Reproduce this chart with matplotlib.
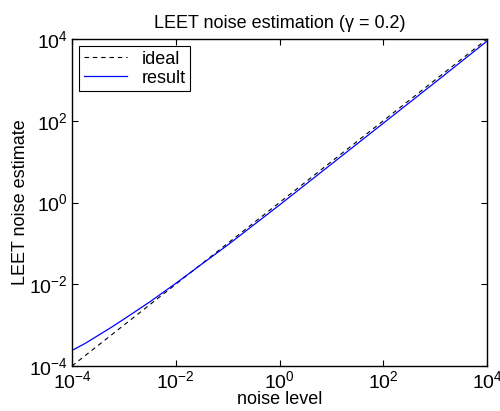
import matplotlib

matplotlib.use("Agg")
import matplotlib.pyplot as plt
import numpy as np

plt.rcParams["font.family"] = ["Liberation Sans", "DejaVu Sans"]
plt.rcParams["mathtext.fontset"] = "custom"
plt.rcParams["mathtext.rm"] = "Liberation Sans"
plt.rcParams["mathtext.it"] = "Liberation Sans:italic"
plt.rcParams["mathtext.default"] = "regular"

# noise level grid and LEET estimate
noise = [1e-4, 1.78e-4, 3.16e-4, 5.62e-4, 1e-3, 3.16e-3, 1e-2, 3.16e-2, 1e-1,
         1.0, 10.0, 100.0, 1e3, 1e4]
estimate = [2.4e-4, 3.55e-4, 5.55e-4, 8.7e-4, 1.4e-3, 3.7e-3, 1.05e-2, 3.1e-2, 0.091,
            0.87, 8.7, 87.0, 870.0, 8900.0]
ideal = [1e-4, 1e4]
ticks = [1e-4, 1e-2, 1e0, 1e2, 1e4]

fig = plt.figure(figsize=(5.0, 4.11), dpi=100)
ax = fig.add_axes([0.144, 0.1095, 0.83, 0.7955])

ax.loglog(ideal, ideal, "--", color="black", lw=0.8, dashes=(4, 3.5), label="ideal")
ax.loglog(noise, estimate, "-", color="#0000ff", lw=0.9, label="result")

ax.set_xlim(1e-4, 1e4)
ax.set_ylim(1e-4, 1e4)
ax.set_xticks(ticks)
ax.set_yticks(ticks)
ax.minorticks_off()
ax.tick_params(direction="in", top=True, right=True, length=4, width=0.8,
               labelsize=14, pad=3)
for s in ax.spines.values():
    s.set_linewidth(1.0)

ax.set_xlabel("noise level", fontsize=13, labelpad=-1)
ax.set_ylabel("LEET noise estimate", fontsize=13, labelpad=0)
ax.set_title("LEET noise estimation (\u03b3 = 0.2)", fontsize=13, pad=8)

leg = ax.legend(loc="upper left", fontsize=13, fancybox=False, framealpha=1,
                edgecolor="black", borderaxespad=0.4, handlelength=2.4,
                borderpad=0.25, labelspacing=0.1, handletextpad=0.8)
leg.get_frame().set_linewidth(0.8)

fig.savefig("out.png", dpi=100)
